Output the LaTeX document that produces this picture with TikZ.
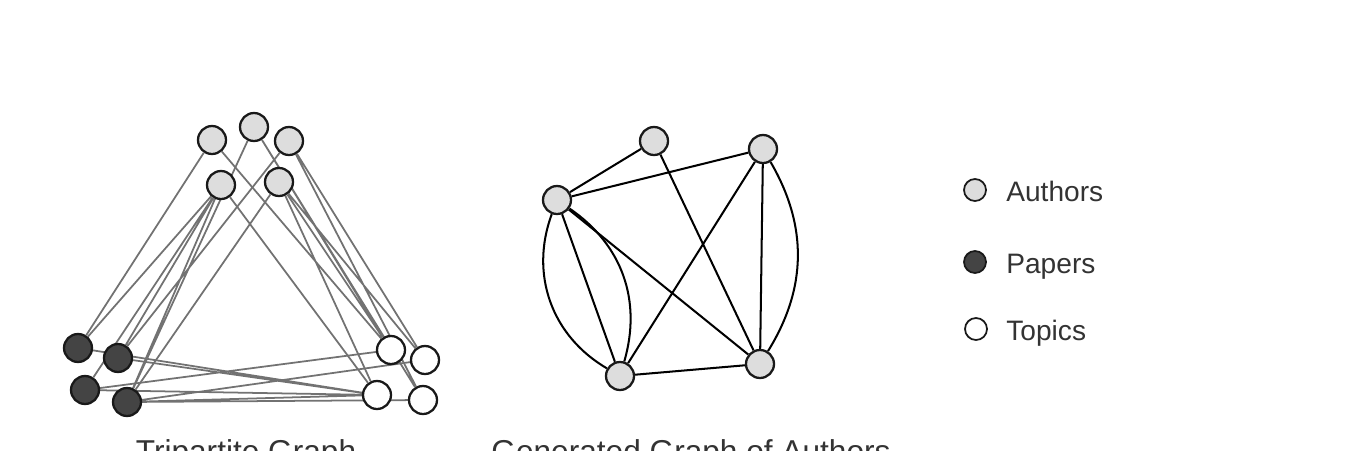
\documentclass[tikz,border=0pt]{standalone}
\usepackage{fontspec}
\setmainfont{Liberation Sans}
\usetikzlibrary{backgrounds}
\definecolor{authorgray}{HTML}{DDDDDD}
\definecolor{papergray}{HTML}{444444}
\definecolor{linkgray}{HTML}{727272}
\definecolor{textgray}{HTML}{333333}
\tikzstyle{vertex} = [circle, draw=black!90, line width=1.3pt, minimum size=0.56cm, inner sep=0pt]
\tikzstyle{author} = [vertex, fill=authorgray]
\tikzstyle{paper} = [vertex, fill=papergray]
\tikzstyle{topic} = [vertex, fill=white]
\tikzstyle{key} = [circle, draw=black!90, line width=1pt, minimum size=0.44cm, inner sep=0pt]
\tikzstyle{link} = [linkgray, line width=1pt]
\tikzstyle{tie} = [black, line width=1.15pt]
\tikzstyle{caption} = [text=textgray, font=\fontsize{18}{22}\selectfont, anchor=base]
\tikzstyle{keytext} = [text=textgray, font=\fontsize{16}{19}\selectfont, anchor=base west, inner sep=0pt]

\begin{document}
\begin{tikzpicture}[x=0.02cm, y=-0.02cm]
	\useasboundingbox (0,0) rectangle (1370,450);
	% tripartite graph
	\node (a1) [author] at (212,140) {};
	\node (a2) [author] at (254,127) {};
	\node (a3) [author] at (289,141) {};
	\node (a4) [author] at (221,185) {};
	\node (a5) [author] at (279,182) {};
	\node (p1) [paper] at (78,348) {};
	\node (p2) [paper] at (118,358) {};
	\node (p3) [paper] at (85,390) {};
	\node (p4) [paper] at (127,402) {};
	\node (t1) [topic] at (391,350) {};
	\node (t2) [topic] at (425,360) {};
	\node (t3) [topic] at (377,395) {};
	\node (t4) [topic] at (423,400) {};
	\begin{pgfonlayer}{background}
		\draw [link] (a1) -- (p1) (a4) -- (p1) (a4) -- (p2) (a4) -- (p3) (a4) -- (p4)
			(a2) -- (p4) (a3) -- (p2) (a5) -- (p4);
		\draw [link] (a1) -- (t1) (a2) -- (t1) (a2) -- (t4) (a3) -- (t2) (a3) -- (t4)
			(a4) -- (t3) (a5) -- (t1) (a5) -- (t2) (a5) -- (t3);
		\draw [link] (p1) -- (t3) (p2) -- (t3) (p3) -- (t1) (p3) -- (t3)
			(p4) -- (t2) (p4) -- (t3) (p4) -- (t4);
	\end{pgfonlayer}
	\node (tricap) [caption] at (246,462) {Tripartite Graph};

	% graph of authors
	\node (g1) [author] at (654,141) {};
	\node (g2) [author] at (763,149) {};
	\node (g3) [author] at (557,200) {};
	\node (g4) [author] at (620,376) {};
	\node (g5) [author] at (760,364) {};
	\begin{pgfonlayer}{background}
		\draw [tie] (g3) -- (g1);
		\draw [tie] (g3) -- (g2);
		\draw [tie] (g1) -- (g5);
		\draw [tie] (g2) -- (g4);
		\draw [tie] (g2) -- (g5);
		\draw [tie] (g2) to [bend left=31] (g5);
		\draw [tie] (g3) to [bend right=40] (g4);
		\draw [tie] (g3) -- (g4);
		\draw [tie] (g3) to [bend left=36] (g4);
		\draw [tie] (g3) -- (g5);
		\draw [tie] (g4) -- (g5);
	\end{pgfonlayer}
	\node (gencap) [caption] at (691,462) {Generated Graph of Authors};

	% legend
	\node (kauthor) [key, fill=authorgray] at (975,190) {};
	\node (kpaper) [key, fill=papergray] at (975,262) {};
	\node (ktopic) [key, fill=white] at (976,329) {};
	\node (lauthor) [keytext] at (1006,201) {Authors};
	\node (lpaper) [keytext] at (1006,273) {Papers};
	\node (ltopic) [keytext] at (1006,340) {Topics};
\end{tikzpicture}
\end{document}
